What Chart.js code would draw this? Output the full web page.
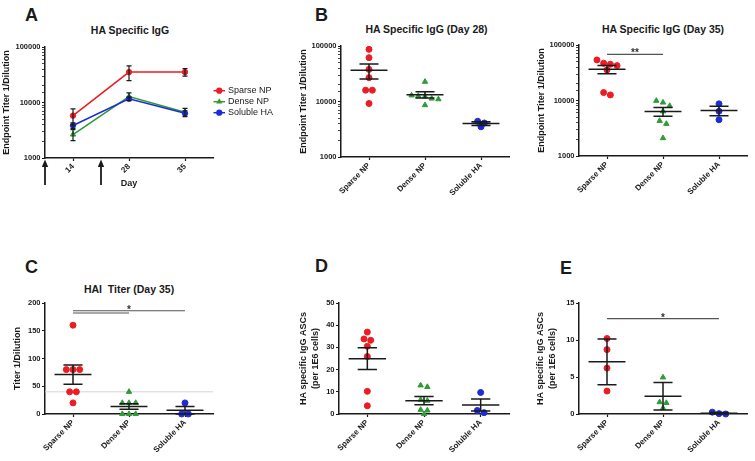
<!DOCTYPE html>
<html>
<head>
<meta charset="utf-8">
<script src="https://cdn.jsdelivr.net/npm/chart.js@4.4.1/dist/chart.umd.min.js"></script>
<style>
  body { margin: 0; width: 755px; height: 461px; position: relative; overflow: hidden; background: #fff;
         font-family: 'Liberation Sans', Arial, sans-serif; color: #1a1a1a; }
  canvas { position: absolute; }
  .letter { position: absolute; font-weight: bold; font-size: 18px; line-height: 18px; transform: translateY(-50%); }
  .title { position: absolute; font-weight: bold; font-size: 10.5px; line-height: 10.5px; transform: translate(-50%, -50%); white-space: pre; }
</style>
</head>
<body>
<div class="letter" style="left:25px;top:15px">A</div>
<div class="letter" style="left:315px;top:15px">B</div>
<div class="letter" style="left:25px;top:266.5px">C</div>
<div class="letter" style="left:315px;top:266px">D</div>
<div class="letter" style="left:560px;top:268px">E</div>
<div class="title" style="left:130px;top:29.5px">HA Specific IgG</div>
<div class="title" style="left:426.5px;top:29px">HA Specific IgG (Day 28)</div>
<div class="title" style="left:663px;top:29px">HA Specific IgG (Day 35)</div>
<div class="title" style="left:129px;top:288.5px">HAI  Titer (Day 35)</div>
<script>
const groups = ['Sparse NP', 'Dense NP', 'Soluble HA'];
const days = [14, 28, 35];
const immunizationDays = [0, 21];

// A - endpoint titer over time (mean, SEM)
const timeSparseMean = [5800, 35300, 35300];
const timeSparseSem = [1900, 10500, 5500];
const timeDenseMean = [2650, 12800, 6700];
const timeDenseSem = [600, 2050, 1150];
const timeSolubleMean = [3850, 11700, 6400];
const timeSolubleSem = [450, 800, 700];

// B - day 28
const d28Sparse = [87000, 61600, 37900, 26900, 16000, 16000, 9200];
const d28Dense = [22700, 12900, 12600, 12300, 11300, 11000, 8600];
const d28Soluble = [4400, 3500, 4100];
const d28Mean = [36400, 13300, 4000];
const d28Sem = [11000, 1700, 300];

// B - day 35
const d35Sparse = [53800, 46900, 45000, 42500, 35600, 13900, 12600];
const d35Dense = [9900, 9200, 8000, 6400, 4300, 3800, 2100];
const d35Soluble = [8700, 6400, 4500];
const d35Mean = [36600, 6350, 6600];
const d35Sem = [6200, 1150, 1300];
const d35Sig = [{from: 0, to: 1, y: 68000, text: '**'}];

// C - HAI titer day 35
const haiSparse = [160, 80, 80, 80, 40, 40, 20];
const haiDense = [40, 20, 20, 20, 0, 0, 0];
const haiSoluble = [20, 0, 0];
const haiMean = [71, 13.5, 6.7];
const haiSem = [17.5, 5, 6.7];
const haiLimit = 40;
const haiSig = [{from: 0, to: 2, y: 186, text: '*'}, {from: 0, to: 1, y: 182, text: ''}];

// D - ASCs
const ascDSparse = [36.9, 33.8, 33.2, 30.5, 25.9, 10.2, 3.7];
const ascDDense = [12.9, 12.2, 6.4, 6.0, 1.9, 1.6, 0];
const ascDSoluble = [9.7, 1.6, 0.6];
const ascDMean = [24.9, 6.0, 4.1];
const ascDSem = [4.9, 1.85, 2.7];

// E - ASCs
const ascESparse = [10.2, 8.7, 6.2, 3.1];
const ascEDense = [4.95, 1.6, 1.5, 0.8];
const ascESoluble = [0.25, 0.05, 0];
const ascEMean = [7.05, 2.4, 0.1];
const ascEErr = [3.1, 1.85, 0.1];
const ascESig = [{from: 0, to: 2, y: 12.9, text: '*'}];

const FONT = "'Liberation Sans', Arial, sans-serif";
const INK = '#1a1a1a';
const groupColors = ['#ec1c24', '#2e9b36', '#1f2bd6'];
const groupMarkers = ['circle', 'triangle', 'circle'];

Chart.defaults.font.family = FONT;
Chart.defaults.color = INK;
Chart.defaults.animation = false;
Chart.defaults.events = [];
Chart.defaults.plugins.legend.display = false;
Chart.defaults.plugins.tooltip.enabled = false;

// chart area in page pixels (l,t,r,b) + margins for the axes around it
const boxA = {l: 45, t: 47, r: 213, b: 158, ml: 45, mt: 12, mr: 60, mb: 31};
const boxB28 = {l: 341, t: 46, r: 509, b: 157, ml: 46, mt: 12, mr: 12, mb: 62};
const boxB35 = {l: 579, t: 45, r: 747, b: 156, ml: 46, mt: 12, mr: 8, mb: 62};
const boxC = {l: 45, t: 303, r: 213, b: 414, ml: 45, mt: 12, mr: 20, mb: 47};
const boxD = {l: 339, t: 303, r: 509, b: 414, ml: 44, mt: 12, mr: 12, mb: 47};
const boxE = {l: 579, t: 303, r: 747, b: 414, ml: 46, mt: 12, mr: 8, mb: 47};

function makeCanvas(b) {
    const c = document.createElement('canvas');
    const w = b.r - b.l + b.ml + b.mr, h = b.b - b.t + b.mt + b.mb;
    c.width = w;
    c.height = h;
    c.style.left = (b.l - b.ml) + 'px';
    c.style.top = (b.t - b.mt) + 'px';
    c.style.width = w + 'px';
    c.style.height = h + 'px';
    document.body.appendChild(c);
    return c;
}

const isPow10 = v => {
    const e = Math.round(Math.log10(v));
    return Math.abs(v - Math.pow(10, e)) < 1e-6 * v;
};

function yScale(b, text, pad, range) {
    const s = {
        position: 'left',
        border: {color: INK, width: 1.5},
        grid: {drawOnChartArea: false, tickLength: 3, tickColor: INK, tickWidth: 1.2},
        ticks: {font: {size: 7.5, weight: 'bold'}, color: INK, padding: 1.5, autoSkip: false},
        title: {display: true, text: text, color: INK, font: {size: 9, weight: 'bold', lineHeight: 1.3}, padding: {top: pad, bottom: 0}},
        afterFit(sc) { sc.width = b.ml; sc.paddingTop = 0; sc.paddingBottom = 0; }
    };
    if (range.log) {
        s.type = 'logarithmic';
        s.min = range.min;
        s.max = range.max;
        s.ticks.callback = v => isPow10(v) ? String(v) : '';
        s.grid.tickWidth = ctx => isPow10(ctx.tick.value) ? 1.2 : 0.8;
    } else {
        s.type = 'linear';
        s.min = range.min;
        s.max = range.max;
        s.ticks.stepSize = range.step;
    }
    return s;
}

function catScale(b) {
    return {
        type: 'linear', min: 0.5, max: groups.length + 0.5,
        border: {color: INK, width: 1.5},
        grid: {drawOnChartArea: false, tickLength: 3, tickColor: INK, tickWidth: 1.2},
        afterBuildTicks(sc) { sc.ticks = groups.map((g, i) => ({value: i + 1})); },
        ticks: {autoSkip: false, minRotation: 45, maxRotation: 45, padding: 1, color: INK,
                font: {size: 8, weight: 'bold'}, callback: v => groups[v - 1]},
        afterFit(sc) { sc.height = b.mb; sc.paddingLeft = 0; sc.paddingRight = 0; }
    };
}

function dotSets(lists) {
    return lists.map((vals, g) => ({
        label: groups[g],
        data: vals.map(v => ({x: g + 1, y: v})),
        values: vals,
        pointStyle: groupMarkers[g],
        pointRadius: groupMarkers[g] === 'triangle' ? 3.1 : 3,
        pointBorderWidth: 1,
        backgroundColor: groupColors[g],
        borderColor: groupColors[g],
        clip: false
    }));
}

// spread points with (nearly) equal values side by side
function swarm(chart, step = 6.7, gap = 3.5) {
    const {x, y} = chart.scales;
    const unit = x.getPixelForValue(2) - x.getPixelForValue(1);
    chart.data.datasets.forEach((ds, g) => {
        const order = ds.values.map((v, i) => ({i, py: y.getPixelForValue(v)})).sort((a, b) => a.py - b.py);
        let run = [];
        const flush = () => {
            run.forEach((p, k) => { ds.data[p.i].x = g + 1 + (k - (run.length - 1) / 2) * step / unit; });
            run = [];
        };
        order.forEach(p => {
            if (run.length && p.py - run[run.length - 1].py > gap) flush();
            run.push(p);
        });
        flush();
    });
    chart.update('none');
}

function meanErr(mean, err) {
    return {
        id: 'meanErr',
        afterDatasetsDraw(chart) {
            const {ctx, scales: {x, y}} = chart;
            const hline = (cx, v, half) => {
                const py = y.getPixelForValue(v);
                ctx.moveTo(x.getPixelForValue(cx - half), py);
                ctx.lineTo(x.getPixelForValue(cx + half), py);
            };
            ctx.save();
            ctx.strokeStyle = INK;
            ctx.lineWidth = 1.5;
            ctx.beginPath();
            mean.forEach((m, g) => {
                const cx = g + 1, hi = m + err[g], lo = Math.max(m - err[g], y.min);
                hline(cx, m, 0.33);
                hline(cx, hi, 0.17);
                hline(cx, lo, 0.17);
                ctx.moveTo(x.getPixelForValue(cx), y.getPixelForValue(hi));
                ctx.lineTo(x.getPixelForValue(cx), y.getPixelForValue(lo));
            });
            ctx.stroke();
            ctx.restore();
        }
    };
}

function sigBars(list) {
    return {
        id: 'sigBars',
        afterDatasetsDraw(chart) {
            const {ctx, scales: {x, y}} = chart;
            ctx.save();
            ctx.strokeStyle = '#555';
            ctx.lineWidth = 1.2;
            ctx.fillStyle = '#333';
            ctx.font = 'bold 10px ' + FONT;
            ctx.textAlign = 'center';
            ctx.textBaseline = 'alphabetic';
            list.forEach(s => {
                const x0 = x.getPixelForValue(s.from + 1), x1 = x.getPixelForValue(s.to + 1);
                const py = y.getPixelForValue(s.y);
                ctx.beginPath();
                ctx.moveTo(x0, py);
                ctx.lineTo(x1, py);
                ctx.stroke();
                if (s.text) ctx.fillText(s.text, (x0 + x1) / 2, py + 2);
            });
            ctx.restore();
        }
    };
}

function refLine(value) {
    return {
        id: 'refLine',
        beforeDatasetsDraw(chart) {
            if (value == null) return;
            const {ctx, chartArea: a, scales: {y}} = chart;
            const py = y.getPixelForValue(value);
            ctx.save();
            ctx.strokeStyle = '#d4d4d4';
            ctx.lineWidth = 1;
            ctx.beginPath();
            ctx.moveTo(a.left, py);
            ctx.lineTo(a.right, py);
            ctx.stroke();
            ctx.restore();
        }
    };
}

function dotChart(b, o) {
    const chart = new Chart(makeCanvas(b), {
        type: 'scatter',
        data: {datasets: dotSets(o.lists)},
        options: {
            responsive: false,
            layout: {padding: {left: 0, top: b.mt, right: b.mr, bottom: 0}, autoPadding: false},
            scales: {x: catScale(b), y: o.y}
        },
        plugins: [refLine(o.refLine), meanErr(o.mean, o.err), sigBars(o.sig || [])]
    });
    swarm(chart);
    return chart;
}

// ---------- A: time course ----------
function dayToAxis(d) {
    const kd = [0, ...days], kp = [-0.5, ...days.map((_, i) => i)];
    for (let i = 1; i < kd.length; i++) {
        if (d <= kd[i]) return kp[i - 1] + (d - kd[i - 1]) / (kd[i] - kd[i - 1]) * (kp[i] - kp[i - 1]);
    }
    return kp[kp.length - 1];
}

function drawMarker(ctx, style, x, y, r) {
    ctx.beginPath();
    if (style === 'triangle') {
        for (let k = 0; k < 3; k++) {
            const a = k * 2 * Math.PI / 3;
            ctx[k ? 'lineTo' : 'moveTo'](x + Math.sin(a) * r, y - Math.cos(a) * r);
        }
        ctx.closePath();
    } else {
        ctx.arc(x, y, r, 0, Math.PI * 2);
    }
    ctx.fill();
}

const timeSeries = [
    {mean: timeSparseMean, sem: timeSparseSem},
    {mean: timeDenseMean, sem: timeDenseSem},
    {mean: timeSolubleMean, sem: timeSolubleSem}
];

const timeErrPlugin = {
    id: 'timeErr',
    afterDatasetsDraw(chart) {
        const {ctx, scales: {x, y}} = chart;
        ctx.save();
        ctx.strokeStyle = INK;
        ctx.lineWidth = 1.2;
        ctx.beginPath();
        timeSeries.forEach(s => s.mean.forEach((m, i) => {
            const px = x.getPixelForValue(i);
            const top = y.getPixelForValue(m + s.sem[i]), bot = y.getPixelForValue(m - s.sem[i]);
            ctx.moveTo(px, top); ctx.lineTo(px, bot);
            ctx.moveTo(px - 2.5, top); ctx.lineTo(px + 2.5, top);
            ctx.moveTo(px - 2.5, bot); ctx.lineTo(px + 2.5, bot);
        }));
        ctx.stroke();
        ctx.restore();
    }
};

const arrowsPlugin = {
    id: 'arrows',
    afterDraw(chart) {
        const {ctx, chartArea: a, scales: {x}} = chart;
        ctx.save();
        ctx.strokeStyle = INK;
        ctx.fillStyle = INK;
        ctx.lineWidth = 1.8;
        immunizationDays.forEach(d => {
            const px = x.getPixelForValue(dayToAxis(d));
            const tip = a.bottom + 1.5;
            ctx.beginPath();
            ctx.moveTo(px, tip + 6);
            ctx.lineTo(px, a.bottom + 27);
            ctx.stroke();
            ctx.beginPath();
            ctx.moveTo(px, tip);
            ctx.lineTo(px - 3.2, tip + 7.5);
            ctx.lineTo(px + 3.2, tip + 7.5);
            ctx.closePath();
            ctx.fill();
        });
        ctx.restore();
    }
};

const sideLegend = {
    id: 'sideLegend',
    afterDraw(chart) {
        const {ctx, chartArea: a} = chart;
        ctx.save();
        ctx.font = '9px ' + FONT;
        ctx.textBaseline = 'middle';
        chart.data.datasets.forEach((ds, k) => {
            const y = a.top + 43.7 + k * 11;
            const x0 = a.right + 0.5, len = 11.5;
            ctx.strokeStyle = ds.borderColor;
            ctx.lineWidth = 1.5;
            ctx.beginPath();
            ctx.moveTo(x0, y);
            ctx.lineTo(x0 + len, y);
            ctx.stroke();
            ctx.fillStyle = ds.backgroundColor;
            drawMarker(ctx, ds.pointStyle, x0 + len / 2, y, ds.pointRadius + 0.4);
            ctx.fillStyle = INK;
            ctx.fillText(ds.label, x0 + len + 3, y);
        });
        ctx.restore();
    }
};

new Chart(makeCanvas(boxA), {
    type: 'scatter',
    data: {
        datasets: timeSeries.map((s, g) => ({
            label: groups[g],
            data: s.mean.map((v, i) => ({x: i, y: v})),
            showLine: true,
            borderColor: groupColors[g],
            backgroundColor: groupColors[g],
            borderWidth: 1.5,
            pointStyle: groupMarkers[g],
            pointRadius: groupMarkers[g] === 'triangle' ? 3.1 : 2.7,
            pointBorderWidth: 1,
            order: groups.length - g,
            clip: false
        }))
    },
    options: {
        responsive: false,
        layout: {padding: {left: 0, top: boxA.mt, right: boxA.mr, bottom: 0}, autoPadding: false},
        scales: {
            x: {
                type: 'linear', min: -0.5, max: days.length - 0.5,
                border: {color: INK, width: 1.5},
                grid: {drawOnChartArea: false, tickLength: 3, tickColor: INK, tickWidth: 1.2},
                afterBuildTicks(sc) { sc.ticks = days.map((d, i) => ({value: i})); },
                ticks: {autoSkip: false, minRotation: 45, maxRotation: 45, padding: 1, color: INK,
                        font: {size: 8, weight: 'bold'}, callback: v => String(days[v])},
                title: {display: true, text: 'Day', color: INK, font: {size: 9, weight: 'bold'}, padding: 0},
                afterFit(sc) { sc.height = boxA.mb; sc.paddingLeft = 0; sc.paddingRight = 0; }
            },
            y: yScale(boxA, 'Endpoint Titer 1/Dilution', 0.65, {log: true, min: 1000, max: 100000})
        }
    },
    plugins: [timeErrPlugin, arrowsPlugin, sideLegend]
});

// ---------- B ----------
dotChart(boxB28, {
    lists: [d28Sparse, d28Dense, d28Soluble], mean: d28Mean, err: d28Sem,
    y: yScale(boxB28, 'Endpoint Titer 1/Dilution', 3.15, {log: true, min: 1000, max: 100000})
});
dotChart(boxB35, {
    lists: [d35Sparse, d35Dense, d35Soluble], mean: d35Mean, err: d35Sem, sig: d35Sig,
    y: yScale(boxB35, 'Endpoint Titer 1/Dilution', 3.15, {log: true, min: 1000, max: 100000})
});

// ---------- C ----------
dotChart(boxC, {
    lists: [haiSparse, haiDense, haiSoluble], mean: haiMean, err: haiSem, sig: haiSig, refLine: haiLimit,
    y: yScale(boxC, 'Titer 1/Dilution', 12.15, {min: 0, max: 200, step: 50})
});

// ---------- D / E ----------
dotChart(boxD, {
    lists: [ascDSparse, ascDDense, ascDSoluble], mean: ascDMean, err: ascDSem,
    y: yScale(boxD, ['HA specific IgG ASCs', '(per 1E6 cells)'], 3.15, {min: 0, max: 50, step: 10})
});
dotChart(boxE, {
    lists: [ascESparse, ascEDense, ascESoluble], mean: ascEMean, err: ascEErr, sig: ascESig,
    y: yScale(boxE, ['HA specific IgG ASCs', '(per 1E6 cells)'], 2.15, {min: 0, max: 15, step: 5})
});
</script>
</body>
</html>
